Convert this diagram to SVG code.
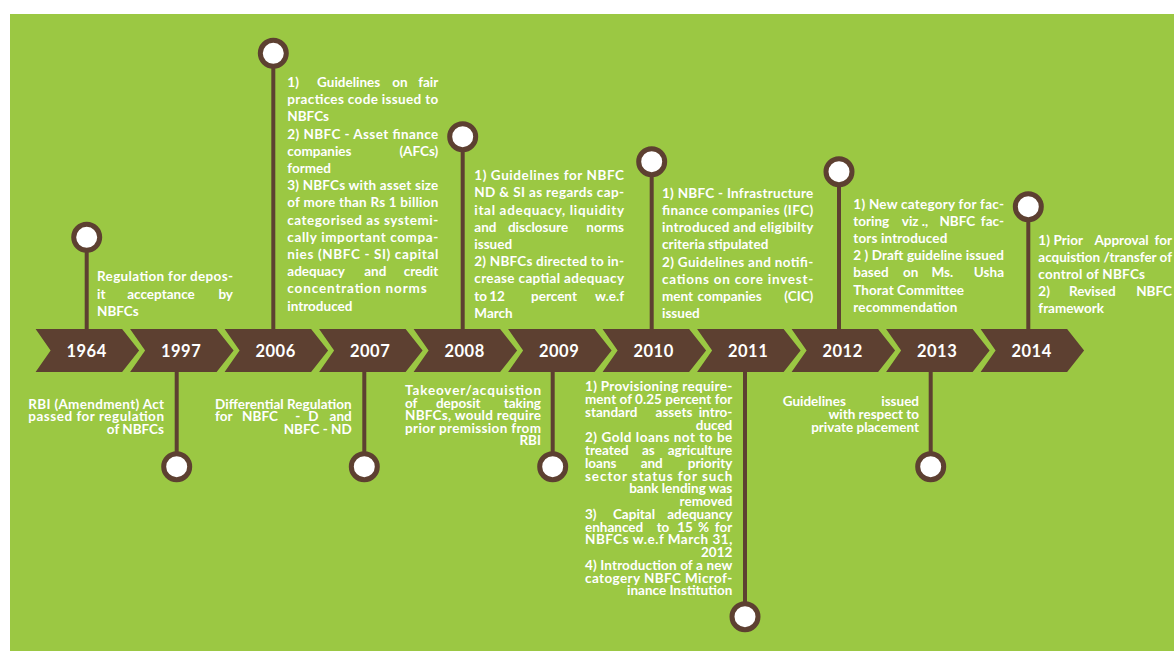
<svg xmlns="http://www.w3.org/2000/svg" width="1174" height="651" viewBox="0 0 1174 651">
<style>
.bg{fill:#9BC843}
.chev{fill:#5D4031}
.yr{font-family:Lato,'Liberation Sans',sans-serif;font-size:16.5px;font-weight:700;fill:#fff;text-anchor:middle;letter-spacing:0.5px}
.t{font-family:Lato,'Liberation Sans',sans-serif;font-size:13.5px;font-weight:700;fill:#fff}
.e{text-anchor:end}
.m{text-anchor:middle}
.stem{stroke:#5D4031;stroke-width:4;fill:none}
.dot{fill:#fff;stroke:#5D4031;stroke-width:5}
</style>
<rect x="0" y="0" width="1174" height="651" fill="#fff"/>
<rect class="bg" x="10" y="14" width="1164" height="637"/>
<g id="connectors">
<line class="stem" x1="86.7" y1="237" x2="86.7" y2="335"/>
<line class="stem" x1="176.7" y1="366" x2="176.7" y2="467"/>
<line class="stem" x1="273.3" y1="53" x2="273.3" y2="335"/>
<line class="stem" x1="364.3" y1="366" x2="364.3" y2="467"/>
<line class="stem" x1="462.7" y1="137" x2="462.7" y2="335"/>
<line class="stem" x1="552.7" y1="366" x2="552.7" y2="467"/>
<line class="stem" x1="651.7" y1="162" x2="651.7" y2="335"/>
<line class="stem" x1="745" y1="366" x2="745" y2="617"/>
<line class="stem" x1="839" y1="172" x2="839" y2="335"/>
<line class="stem" x1="930.7" y1="366" x2="930.7" y2="467"/>
<line class="stem" x1="1028.3" y1="207" x2="1028.3" y2="335"/>
</g>
<g id="y1964">
<polygon class="chev" points="35.6,329 122.1,329 139.1,350.5 122.1,372 35.6,372 50.6,350.5"/>
<text class="yr" x="86.6" y="356.5">1964</text>
<circle class="dot" cx="86.7" cy="237.3" r="13"/>
<text class="t" x="97" y="281" textLength="136" lengthAdjust="spacing">Regulation for depos-</text>
<text class="t" x="97" y="298.5">it</text><text class="t m" x="161" y="298.5">acceptance</text><text class="t e" x="233" y="298.5">by</text>
<text class="t" x="97" y="316">NBFCs</text>
</g>
<g id="y1997">
<polygon class="chev" points="130.1,329 216.6,329 233.6,350.5 216.6,372 130.1,372 145.1,350.5"/>
<text class="yr" x="181.1" y="356.5">1997</text>
<circle class="dot" cx="176.7" cy="466.7" r="13"/>
<text class="t" x="28.3" y="408.8" textLength="135.7" lengthAdjust="spacing">RBI (Amendment) Act</text>
<text class="t" x="28.3" y="421.3" textLength="135.7" lengthAdjust="spacing">passed for regulation</text>
<text class="t e" x="164" y="434">of NBFCs</text>
</g>
<g id="y2006">
<polygon class="chev" points="224.6,329 311.1,329 328.1,350.5 311.1,372 224.6,372 239.6,350.5"/>
<text class="yr" x="275.6" y="356.5">2006</text>
<circle class="dot" cx="273.3" cy="53.3" r="13"/>
<text class="t" x="287.3" y="87">1)</text><text class="t m" x="348.7" y="87">Guidelines</text><text class="t m" x="400" y="87">on</text><text class="t e" x="438.3" y="87">fair</text>
<text class="t" x="287.3" y="104.2" textLength="151" lengthAdjust="spacing">practices code issued to</text>
<text class="t" x="287.3" y="121.4">NBFCs</text>
<text class="t" x="287.3" y="138.6" textLength="151" lengthAdjust="spacing">2) NBFC - Asset finance</text>
<text class="t" x="287.3" y="155.8">companies</text><text class="t e" x="438.3" y="155.8">(AFCs)</text>
<text class="t" x="287.3" y="173">formed</text>
<text class="t" x="287.3" y="190.2" textLength="151" lengthAdjust="spacing">3) NBFCs with asset size</text>
<text class="t" x="287.3" y="207.4" textLength="151" lengthAdjust="spacing">of more than Rs 1 billion</text>
<text class="t" x="287.3" y="224.6" textLength="151" lengthAdjust="spacing">categorised as systemi-</text>
<text class="t" x="287.3" y="241.8" textLength="151" lengthAdjust="spacing">cally important  compa-</text>
<text class="t" x="287.3" y="259" textLength="151" lengthAdjust="spacing">nies (NBFC - SI)  capital</text>
<text class="t" x="287.3" y="276.2">adequacy</text><text class="t m" x="375.3" y="276.2">and</text><text class="t e" x="438.3" y="276.2">credit</text>
<text class="t" x="287.3" y="293.4" textLength="139.4" lengthAdjust="spacing">concentration norms</text>
<text class="t" x="287.3" y="310.6">introduced</text>
</g>
<g id="y2007">
<polygon class="chev" points="319.1,329 405.6,329 422.6,350.5 405.6,372 319.1,372 334.1,350.5"/>
<text class="yr" x="370.1" y="356.5">2007</text>
<circle class="dot" cx="364.3" cy="466.7" r="13"/>
<text class="t" x="215" y="408.8" textLength="136.7" lengthAdjust="spacing">Differential Regulation</text>
<text class="t" x="215" y="421.3">for</text><text class="t m" x="260" y="421.3">NBFC</text><text class="t m" x="297.7" y="421.3">-</text><text class="t m" x="313.3" y="421.3">D</text><text class="t e" x="351.7" y="421.3">and</text>
<text class="t e" x="351.7" y="434">NBFC - ND</text>
</g>
<g id="y2008">
<polygon class="chev" points="413.6,329 500.1,329 517.1,350.5 500.1,372 413.6,372 428.6,350.5"/>
<text class="yr" x="464.6" y="356.5">2008</text>
<circle class="dot" cx="462.7" cy="136.7" r="13"/>
<text class="t" x="474.3" y="180.2" textLength="149.7" lengthAdjust="spacing">1) Guidelines for NBFC</text>
<text class="t" x="474.3" y="197.4" textLength="149.7" lengthAdjust="spacing">ND  &amp; SI as regards cap-</text>
<text class="t" x="474.3" y="214.6" textLength="149.7" lengthAdjust="spacing">ital adequacy, liquidity</text>
<text class="t" x="474.3" y="231.8">and</text><text class="t m" x="538" y="231.8">disclosure</text><text class="t e" x="624" y="231.8">norms</text>
<text class="t" x="474.3" y="249">issued</text>
<text class="t" x="474.3" y="266.2" textLength="149.7" lengthAdjust="spacing">2) NBFCs directed to in-</text>
<text class="t" x="474.3" y="283.4" textLength="149.7" lengthAdjust="spacing">crease captial adequacy</text>
<text class="t" x="474.3" y="300.6">to</text><text class="t m" x="497" y="300.6">12</text><text class="t m" x="554" y="300.6">percent</text><text class="t e" x="624" y="300.6">w.e.f</text>
<text class="t" x="474.3" y="317.8">March</text>
</g>
<g id="y2009">
<polygon class="chev" points="508.1,329 594.6,329 611.6,350.5 594.6,372 508.1,372 523.1,350.5"/>
<text class="yr" x="559.1" y="356.5">2009</text>
<circle class="dot" cx="552.7" cy="466.7" r="13"/>
<text class="t" x="405" y="395.2" textLength="136" lengthAdjust="spacing">Takeover/acquistion</text>
<text class="t" x="405" y="407.8">of</text><text class="t m" x="458.3" y="407.8">deposit</text><text class="t e" x="541" y="407.8">taking</text>
<text class="t" x="405" y="420.3" textLength="136" lengthAdjust="spacing">NBFCs, would require</text>
<text class="t" x="405" y="432.8" textLength="136" lengthAdjust="spacing">prior premission from</text>
<text class="t e" x="541" y="445.4">RBI</text>
</g>
<g id="y2010">
<polygon class="chev" points="602.6,329 689.1,329 706.1,350.5 689.1,372 602.6,372 617.6,350.5"/>
<text class="yr" x="653.6" y="356.5">2010</text>
<circle class="dot" cx="651.7" cy="161.7" r="13"/>
<text class="t" x="662" y="197.8" textLength="151.3" lengthAdjust="spacing">1) NBFC - Infrastructure</text>
<text class="t" x="662" y="215" textLength="151.3" lengthAdjust="spacing">finance companies (IFC)</text>
<text class="t" x="662" y="232.2" textLength="151.3" lengthAdjust="spacing">introduced and eligibilty</text>
<text class="t" x="662" y="249.4" textLength="106.3" lengthAdjust="spacing">criteria stipulated</text>
<text class="t" x="662" y="266.6" textLength="151.3" lengthAdjust="spacing">2) Guidelines and notifi-</text>
<text class="t" x="662" y="283.8" textLength="151.3" lengthAdjust="spacing">cations on core invest-</text>
<text class="t" x="662" y="301">ment</text><text class="t m" x="729.7" y="301">companies</text><text class="t e" x="813.3" y="301">(CIC)</text>
<text class="t" x="662" y="318.2">issued</text>
</g>
<g id="y2011">
<polygon class="chev" points="697.1,329 783.6,329 800.6,350.5 783.6,372 697.1,372 712.1,350.5"/>
<text class="yr" x="748.1" y="356.5">2011</text>
<circle class="dot" cx="745" cy="616.7" r="13"/>
<text class="t" x="585" y="391.2" textLength="147.3" lengthAdjust="spacing">1) Provisioning require-</text>
<text class="t" x="585" y="404" textLength="147.3" lengthAdjust="spacing">ment of 0.25 percent for</text>
<text class="t" x="585" y="416.7">standard</text><text class="t m" x="674" y="416.7">assets</text><text class="t e" x="732.3" y="416.7">intro-</text>
<text class="t e" x="732.3" y="429.5">duced</text>
<text class="t" x="585" y="442.2" textLength="147.3" lengthAdjust="spacing">2) Gold loans not to be</text>
<text class="t" x="585" y="455">treated</text><text class="t m" x="648.3" y="455">as</text><text class="t e" x="732.3" y="455">agriculture</text>
<text class="t" x="585" y="467.7">loans</text><text class="t m" x="651.7" y="467.7">and</text><text class="t e" x="732.3" y="467.7">priority</text>
<text class="t" x="585" y="480.5" textLength="147.3" lengthAdjust="spacing">sector status for such</text>
<text class="t e" x="732.3" y="493.2">bank lending was</text>
<text class="t e" x="732.3" y="506">removed</text>
<text class="t" x="585" y="518.7">3)</text><text class="t m" x="634" y="518.7">Capital</text><text class="t e" x="732.3" y="518.7">adequancy</text>
<text class="t" x="585" y="531.5">enhanced</text><text class="t m" x="663" y="531.5">to</text><text class="t m" x="685" y="531.5">15</text><text class="t m" x="703.5" y="531.5">%</text><text class="t e" x="732.3" y="531.5">for</text>
<text class="t" x="585" y="544.2" textLength="147.3" lengthAdjust="spacing">NBFCs w.e.f March 31,</text>
<text class="t e" x="732.3" y="557">2012</text>
<text class="t" x="585" y="569.7" textLength="147.3" lengthAdjust="spacing">4) Introduction of a new</text>
<text class="t" x="585" y="582.5" textLength="147.3" lengthAdjust="spacing">catogery NBFC Microf-</text>
<text class="t e" x="732.3" y="595.2">inance Institution</text>
</g>
<g id="y2012">
<polygon class="chev" points="791.6,329 878.1,329 895.1,350.5 878.1,372 791.6,372 806.6,350.5"/>
<text class="yr" x="842.6" y="356.5">2012</text>
<circle class="dot" cx="839" cy="171.7" r="13"/>
<text class="t" x="853.3" y="208.5" textLength="150.7" lengthAdjust="spacing">1) New category for fac-</text>
<text class="t" x="853.3" y="225.7">toring</text><text class="t m" x="915" y="225.7">viz .,</text><text class="t m" x="957.3" y="225.7">NBFC</text><text class="t e" x="1004" y="225.7">fac-</text>
<text class="t" x="853.3" y="242.9" textLength="94" lengthAdjust="spacing">tors introduced</text>
<text class="t" x="853.3" y="260.1" textLength="150.7" lengthAdjust="spacing">2 ) Draft guideline issued</text>
<text class="t" x="853.3" y="277.3">based</text><text class="t m" x="910.7" y="277.3">on</text><text class="t m" x="942.3" y="277.3">Ms.</text><text class="t e" x="1004" y="277.3">Usha</text>
<text class="t" x="853.3" y="294.5" textLength="110.7" lengthAdjust="spacing">Thorat Committee</text>
<text class="t" x="853.3" y="311.7" textLength="104" lengthAdjust="spacing">recommendation</text>
</g>
<g id="y2013">
<polygon class="chev" points="886.1,329 972.6,329 989.6,350.5 972.6,372 886.1,372 901.1,350.5"/>
<text class="yr" x="937.1" y="356.5">2013</text>
<circle class="dot" cx="930.7" cy="466.7" r="13"/>
<text class="t" x="782.7" y="406.2">Guidelines</text><text class="t e" x="919" y="406.2">issued</text>
<text class="t e" x="919" y="418.7">with respect  to</text>
<text class="t e" x="919" y="431.5">private placement</text>
</g>
<g id="y2014">
<polygon class="chev" points="980.6,329 1067.1,329 1084.1,350.5 1067.1,372 980.6,372 995.6,350.5"/>
<text class="yr" x="1031.6" y="356.5">2014</text>
<circle class="dot" cx="1028.3" cy="206.7" r="13"/>
<text class="t" x="1038.3" y="244.5">1)</text><text class="t m" x="1068.3" y="244.5">Prior</text><text class="t m" x="1121.5" y="244.5">Approval</text><text class="t e" x="1172" y="244.5">for</text>
<text class="t" x="1038.3" y="261.7" textLength="133.7" lengthAdjust="spacing">acquistion /transfer of</text>
<text class="t" x="1038.3" y="278.9" textLength="106.7" lengthAdjust="spacing">control of NBFCs</text>
<text class="t" x="1038.3" y="296.1">2)</text><text class="t m" x="1092.3" y="296.1">Revised</text><text class="t e" x="1172" y="296.1">NBFC</text>
<text class="t" x="1038.3" y="313.3">framework</text>
</g>
</svg>
